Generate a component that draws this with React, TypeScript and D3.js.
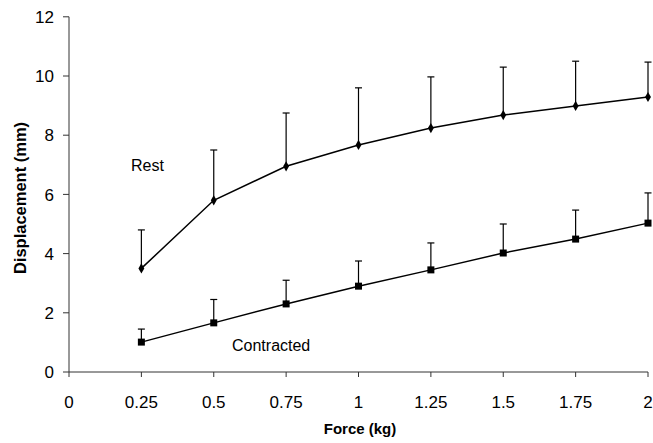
import React from "react";
import * as d3 from "d3";

const forces = [0.25, 0.5, 0.75, 1, 1.25, 1.5, 1.75, 2];
const restMean = [3.5, 5.8, 6.95, 7.67, 8.24, 8.68, 8.99, 9.29];
const restUpper = [4.8, 7.5, 8.75, 9.6, 9.97, 10.3, 10.5, 10.47];
const contractedMean = [1.01, 1.66, 2.3, 2.9, 3.45, 4.02, 4.49, 5.03];
const contractedUpper = [1.45, 2.45, 3.1, 3.75, 4.36, 5.0, 5.47, 6.05];
const xTicks = [0, 0.25, 0.5, 0.75, 1, 1.25, 1.5, 1.75, 2];
const xTickLabels = ["0", "0.25", "0.5", "0.75", "1", "1.25", "1.5", "1.75", "2"];
const yTicks = [0, 2, 4, 6, 8, 10, 12];

export default function App() {
  const W = 653, H = 443;
  const x = d3.scaleLinear().domain([0, 2]).range([69, 648]);
  const y = d3.scaleLinear().domain([0, 12]).range([372, 16.8]);
  const font = "Liberation Sans, Arial, sans-serif";
  const line = d3.line<[number, number]>().x(d => x(d[0])).y(d => y(d[1]));
  const restPts = forces.map((f, i) => [f, restMean[i]] as [number, number]);
  const conPts = forces.map((f, i) => [f, contractedMean[i]] as [number, number]);
  const diamond = d3.symbol().type(d3.symbolDiamond).size(30)();
  const square = d3.symbol().type(d3.symbolSquare).size(49)();
  return (
    <svg width={W} height={H} style={{ position: "absolute", left: 0, top: 0, background: "#fff" }} fontFamily={font}>
      <line x1={x(0)} x2={x(0)} y1={y(0)} y2={y(12)} stroke="#333" strokeWidth={1} />
      <line x1={x(0)} x2={x(2)} y1={y(0)} y2={y(0)} stroke="#333" strokeWidth={1} />
      {yTicks.map(t => (
        <g key={"y" + t}>
          <line x1={x(0) - 6} x2={x(0)} y1={y(t)} y2={y(t)} stroke="#333" />
          <text x={x(0) - 15} y={y(t)} dy="0.36em" textAnchor="end" fontSize={17}>{t}</text>
        </g>
      ))}
      {xTicks.map((t, i) => (
        <g key={"x" + t}>
          <line x1={x(t)} x2={x(t)} y1={y(0)} y2={y(0) + 5} stroke="#333" />
          <text x={x(t)} y={y(0) + 36} textAnchor="middle" fontSize={17}>{xTickLabels[i]}</text>
        </g>
      ))}
      <text x={360} y={434} textAnchor="middle" fontSize={15} fontWeight="bold">Force (kg)</text>
      <text transform={`translate(26,198) rotate(-90)`} textAnchor="middle" fontSize={16.5} fontWeight="bold">Displacement (mm)</text>
      {forces.map((f, i) => (
        <g key={"er" + f} stroke="#000" strokeWidth={1.2}>
          <line x1={x(f)} x2={x(f)} y1={y(restMean[i])} y2={y(restUpper[i])} />
          <line x1={x(f) - 3.5} x2={x(f) + 3.5} y1={y(restUpper[i])} y2={y(restUpper[i])} />
          <line x1={x(f)} x2={x(f)} y1={y(contractedMean[i])} y2={y(contractedUpper[i])} />
          <line x1={x(f) - 3.5} x2={x(f) + 3.5} y1={y(contractedUpper[i])} y2={y(contractedUpper[i])} />
        </g>
      ))}
      <path d={line(restPts) || ""} fill="none" stroke="#000" strokeWidth={1.5} />
      <path d={line(conPts) || ""} fill="none" stroke="#000" strokeWidth={1.5} />
      {restPts.map(p => (
        <path key={"rp" + p[0]} d={diamond || ""} transform={`translate(${x(p[0])},${y(p[1])})`} fill="#000" />
      ))}
      {conPts.map(p => (
        <path key={"cp" + p[0]} d={square || ""} transform={`translate(${x(p[0])},${y(p[1])})`} fill="#000" />
      ))}
      <text x={131} y={171} fontSize={16}>Rest</text>
      <text x={232} y={351} fontSize={16}>Contracted</text>
    </svg>
  );
}
